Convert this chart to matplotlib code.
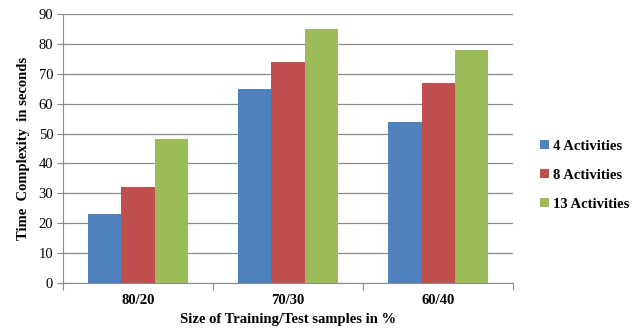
import numpy as np
import matplotlib
matplotlib.use("Agg")
import matplotlib.pyplot as plt

plt.rcParams['font.family'] = ['Liberation Serif', 'DejaVu Serif']

categories = ["80/20", "70/30", "60/40"]
series_names = ["4 Activities", "8 Activities", "13 Activities"]
act4 = [23, 65, 54]
act8 = [32, 74, 67]
act13 = [48, 85, 78]
colors = ["#4F81BD", "#C0504D", "#9BBB59"]

fig = plt.figure(figsize=(6.36, 3.31), dpi=100)
ax = fig.add_axes([0.099, 0.145, 0.708, 0.813])

x = np.arange(len(categories))
w = 0.222
for i, (vals, name, c) in enumerate(zip([act4, act8, act13], series_names, colors)):
    ax.bar(x + (i - 1) * w, vals, w, color=c, label=name, zorder=3)

ax.set_xlim(-0.5, 2.5)
ax.set_ylim(0, 90)
ax.set_yticks(range(0, 91, 10))
ax.yaxis.grid(True, color="#8c8c8c", linewidth=0.9, zorder=0)

ax.set_xticks([-0.5, 0.5, 1.5, 2.5])
ax.set_xticklabels([])
ax.set_xticks(x, minor=True)
ax.set_xticklabels(categories, minor=True, fontweight="bold", fontsize=10.5)
ax.tick_params(axis="x", which="minor", length=0, pad=8)
ax.tick_params(axis="x", which="major", length=5, color="#8c8c8c", direction="out")
ax.tick_params(axis="y", length=4, color="#8c8c8c", labelsize=10.5, pad=3)

for s in ["top", "right"]:
    ax.spines[s].set_visible(False)
ax.spines["left"].set_color("#8c8c8c")
ax.spines["bottom"].set_color("#8c8c8c")

ax.set_xlabel("Size of Training/Test samples in %", fontweight="bold", fontsize=10.5, labelpad=4)
ax.set_ylabel("Time  Complexity  in seconds", fontweight="bold", fontsize=10.5, labelpad=6)

leg = ax.legend(loc="center left", bbox_to_anchor=(1.03, 0.40), frameon=False,
                prop={"weight": "bold", "size": 10.5}, handlelength=0.6, handleheight=0.6,
                handletextpad=0.3, labelspacing=1.1)

fig.savefig("out.png", dpi=100)
